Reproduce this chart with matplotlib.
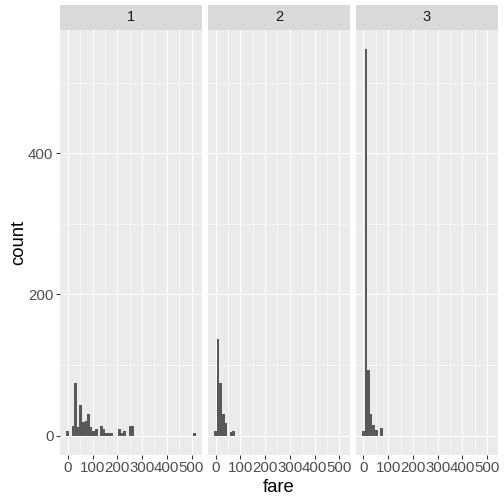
import numpy as np
import matplotlib
matplotlib.use('Agg')
import matplotlib.pyplot as plt

plt.rcParams['font.family'] = ['Liberation Sans', 'DejaVu Sans']

# histogram of fare by passenger class (50 bins over 0 .. 512.33)
bin_width = 512.3292 / 49

classes = ['1', '2', '3']

bins_1 = [0, 2, 3, 4, 5, 6, 7, 8, 9, 10, 11, 13, 14, 15, 16, 17, 20, 21, 22, 24, 25, 49]
counts_1 = [7, 13, 74, 12, 44, 20, 21, 31, 12, 6, 10, 13, 9, 4, 4, 4, 9, 4, 6, 13, 13, 4]

bins_2 = [0, 1, 2, 3, 4, 6, 7]
counts_2 = [7, 137, 75, 31, 18, 5, 6]

bins_3 = [0, 1, 2, 3, 4, 5, 7]
counts_3 = [7, 548, 93, 31, 15, 8, 11]

all_bins = [bins_1, bins_2, bins_3]
all_counts = [counts_1, counts_2, counts_3]

x_ticks = [0, 100, 200, 300, 400, 500]
y_ticks = [0, 200, 400]

W = H = 504
fig = plt.figure(figsize=(7, 7), dpi=72)

left, right = 60, 498
gap = 5.5
pw = (right - left - 2 * gap) / 3
p_top, p_bot = 29.5, 455
strip_top = 5

xlo = -bin_width / 2
xhi = 49 * bin_width + bin_width / 2
xpad = 0.05 * (xhi - xlo)
ymax = max(counts_3)

for i in range(3):
    x0 = left + i * (pw + gap)
    ax = fig.add_axes([x0 / W, (H - p_bot) / H, pw / W, (p_bot - p_top) / H])
    ax.set_facecolor('#EBEBEB')
    centers = np.array(all_bins[i]) * bin_width
    ax.bar(centers, all_counts[i], width=bin_width, color='#595959',
           linewidth=0, zorder=3)
    ax.set_xlim(xlo - xpad, xhi + xpad)
    ax.set_ylim(-0.05 * ymax, 1.05 * ymax)

    ax.set_xticks(x_ticks)
    ax.set_xticks([50, 150, 250, 350, 450], minor=True)
    ax.set_yticks(y_ticks)
    ax.set_yticks([100, 300, 500], minor=True)
    ax.grid(True, which='major', color='white', lw=1.07, zorder=1)
    ax.grid(True, which='minor', color='white', lw=0.53, zorder=1)
    ax.set_axisbelow(True)
    for s in ax.spines.values():
        s.set_visible(False)
    ax.tick_params(which='minor', length=0)
    ax.tick_params(which='major', length=4, width=1.07, color='#333333',
                   labelcolor='#4D4D4D', labelsize=15, pad=2.5)
    if i > 0:
        ax.tick_params(axis='y', which='major', length=0, labelleft=False)

    # facet strip
    sx = fig.add_axes([x0 / W, (H - p_top) / H, pw / W, (p_top - strip_top) / H])
    sx.set_facecolor('#D9D9D9')
    sx.set_xticks([])
    sx.set_yticks([])
    for s in sx.spines.values():
        s.set_visible(False)
    sx.text(0.5, 0.5, classes[i], ha='center', va='center',
            fontsize=14.5, color='#1A1A1A', transform=sx.transAxes)

fig.text((left + right) / 2 / W, 1 - 487 / H, 'fare', ha='center', va='center',
         fontsize=18.5, color='black')
fig.text(19 / W, 1 - (p_top + p_bot) / 2 / H, 'count', ha='center', va='center',
         rotation=90, fontsize=18.5, color='black')

fig.savefig('out.png', dpi=72, facecolor='white')
